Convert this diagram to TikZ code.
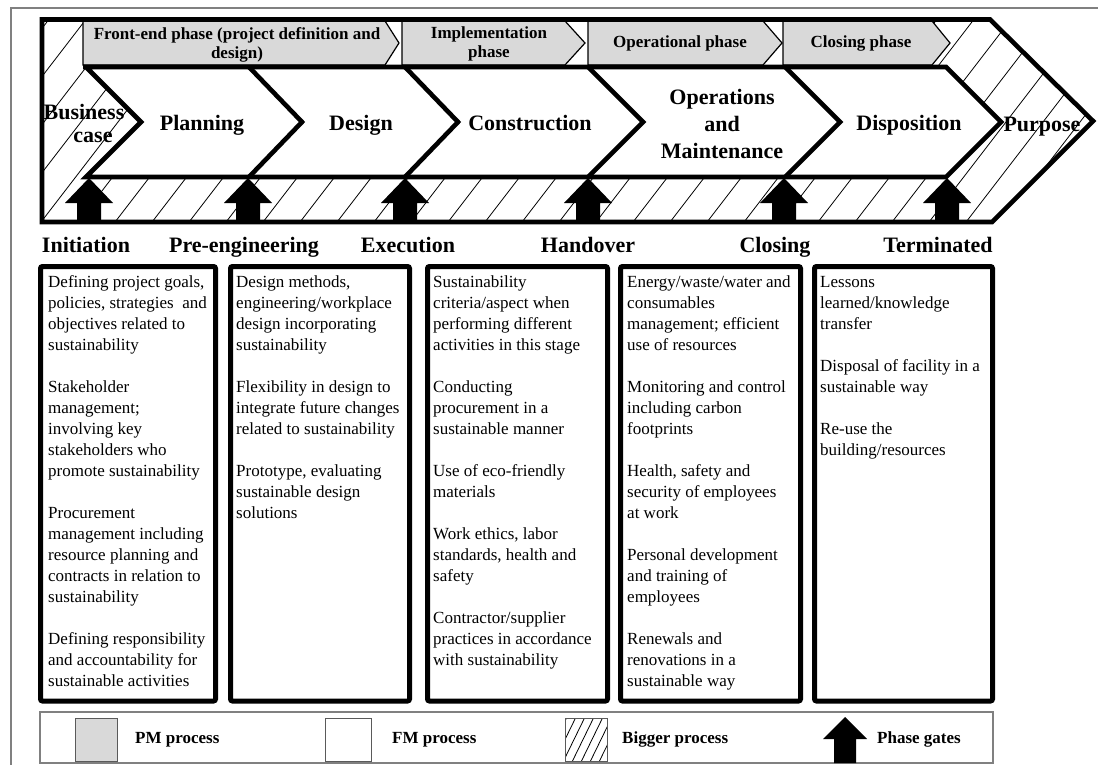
\documentclass[tikz,border=0pt]{standalone}
\usepackage{fontspec}
\setmainfont{Liberation Serif}
\definecolor{pmgray}{RGB}{217,217,217}
\definecolor{framegray}{RGB}{128,128,128}
\begin{document}
\begin{tikzpicture}[x=1pt,y=-1pt,
  thickln/.style={line width=4.6pt, line join=miter},
  pmshape/.style={fill=pmgray, draw=black, line width=1.2pt},
  hatchln/.style={line width=0.8pt},
  phaselbl/.style={font=\fontsize{17}{19.5}\selectfont\bfseries, align=center, inner sep=0, anchor=north},
  phaseone/.style={font=\fontsize{17}{19.5}\selectfont\bfseries, inner sep=0, anchor=base},
  stagelbl/.style={font=\fontsize{22}{27}\selectfont\bfseries, inner sep=0, anchor=base},
  stagemulti/.style={font=\fontsize{22}{27}\selectfont\bfseries, align=center, inner sep=0, anchor=north},
  gatelbl/.style={font=\fontsize{22}{26}\selectfont\bfseries, inner sep=0, anchor=base},
  bodytxt/.style={font=\fontsize{17}{21}\selectfont, align=left, inner sep=0, anchor=north west},
  colbox/.style={draw=black, line width=5pt, rounded corners=2pt},
  legtxt/.style={font=\fontsize{17}{20}\selectfont\bfseries, inner sep=0, anchor=base west},
  framestyle/.style={draw=framegray, line width=1.2pt}
]
\useasboundingbox (0,0) rectangle (1098,765);

% page frame
\coordinate (f0) at (11,765);
\coordinate (f1) at (11,8);
\coordinate (f2) at (1098,8);
\draw[framestyle] (f0) -- (f1) -- (f2);

% outer shape
\coordinate (o1) at (42,19.5);
\coordinate (o2) at (990,19.5);
\coordinate (o3) at (1093,121);
\coordinate (o4) at (992,222);
\coordinate (o5) at (42,222);
\fill[white] (o1) -- (o2) -- (o3) -- (o4) -- (o5) -- cycle;

% texts lying on hatched area (hatch drawn over them)
\node[stagelbl] (biz1) at (84,120) {Business};
\node[stagelbl] (biz2) at (93,143) {case};
\node[stagelbl] (purp) at (1042,132) {Purpose};

% hatch
\begin{scope}
\clip (o1) -- (o2) -- (o3) -- (o4) -- (o5) -- cycle;
\foreach \c in {-147,-110,...,1110} \draw[hatchln] (\c,226) -- (\c+160,18);
\end{scope}

% top row (PM process)
\fill[white] (83,21) rectangle (783,65);
\draw[pmshape] (83,21) -- (385,21) -- (399,43) -- (385,65) -- (83,65) -- cycle;
\draw[pmshape] (402,21) -- (565,21) -- (585,43) -- (565,65) -- (402,65) -- cycle;
\draw[pmshape] (588,21) -- (763,21) -- (782,43) -- (763,65) -- (588,65) -- cycle;
\draw[pmshape] (783,21) -- (932,21) -- (950,43) -- (932,65) -- (783,65) -- cycle;

% middle row (FM process)
\fill[white] (86,67) -- (946,67) -- (1001,122) -- (946,177) -- (86,177) -- (141,122) -- cycle;
\draw[thickln] (83,67) -- (946,67) -- (1001,122) -- (946,177) -- (86,177) -- (141,122) -- (86,67);
\draw[thickln] (249,67) -- (302,122) -- (249,177);
\draw[thickln] (405,67) -- (458,122) -- (405,177);
\draw[thickln] (588,67) -- (643,122) -- (588,177);
\draw[thickln] (785,67) -- (840,122) -- (785,177);

% phase gates
\foreach \x in {89,248,405,588,784,947}
  \fill (\x,178) -- (\x+24,203) -- (\x+12,203) -- (\x+12,222) -- (\x-12,222) -- (\x-12,203) -- (\x-24,203) -- cycle;

% outer border
\draw[thickln] (o1) -- (o2) -- (o3) -- (o4) -- (o5) -- cycle;

% phase labels
\node[phaselbl] (ph1) at (237,25.4) {\strut Front-end phase (project definition and\\design)};
\node[phaselbl] (ph2) at (489,24.4) {\strut Implementation\\phase};
\node[phaseone] (ph3) at (680,48) {Operational phase};
\node[phaseone] (ph4) at (861,48) {Closing phase};

% stage labels
\node[stagelbl] (st1) at (202,131) {Planning};
\node[stagelbl] (st2) at (361,131) {Design};
\node[stagelbl] (st3) at (530,131) {Construction};
\node[stagemulti] (st4) at (722,85.1) {\strut Operations\\and\\Maintenance};
\node[stagelbl] (st5) at (909,131) {Disposition};

% gate labels
\node[gatelbl] (g1) at (86,252) {Initiation};
\node[gatelbl] (g2) at (244,252) {Pre-engineering};
\node[gatelbl] (g3) at (408,252) {Execution};
\node[gatelbl] (g4) at (588,252) {Handover};
\node[gatelbl] (g5) at (775,252) {Closing};
\node[gatelbl] (g6) at (938,252) {Terminated};

% column boxes
\draw[colbox] (40.5,266.5) rectangle (215.5,701);
\draw[colbox] (230.5,266.5) rectangle (409.5,701);
\draw[colbox] (427.5,266.5) rectangle (607.5,701);
\draw[colbox] (620.5,266.5) rectangle (800.5,701);
\draw[colbox] (814.5,266.5) rectangle (992.5,701);

\node[bodytxt] (t1) at (48,272.3) {\strut Defining project goals,\\policies, strategies\ \ and\\objectives related to\\sustainability\\[21pt]Stakeholder\\management;\\involving key\\stakeholders who\\promote sustainability\\[21pt]Procurement\\management including\\resource planning and\\contracts in relation to\\sustainability\\[21pt]Defining responsibility\\and accountability for\\sustainable activities};
\node[bodytxt] (t2) at (236,272.3) {\strut Design methods,\\engineering/workplace\\design incorporating\\sustainability\\[21pt]Flexibility in design to\\integrate future changes\\related to sustainability\\[21pt]Prototype, evaluating\\sustainable design\\solutions};
\node[bodytxt] (t3) at (433,272.3) {\strut Sustainability\\criteria/aspect when\\performing different\\activities in this stage\\[21pt]Conducting\\procurement in a\\sustainable manner\\[21pt]Use of eco-friendly\\materials\\[21pt]Work ethics, labor\\standards, health and\\safety\\[21pt]Contractor/supplier\\practices in accordance\\with sustainability};
\node[bodytxt] (t4) at (627,272.3) {\strut Energy/waste/water and\\consumables\\management; efficient\\use of resources\\[21pt]Monitoring and control\\including carbon\\footprints\\[21pt]Health, safety and\\security of employees\\at work\\[21pt]Personal development\\and training of\\employees\\[21pt]Renewals and\\renovations in a\\sustainable way};
\node[bodytxt] (t5) at (820,272.3) {\strut Lessons\\learned/knowledge\\transfer\\[21pt]Disposal of facility in a\\sustainable way\\[21pt]Re-use the\\building/resources};

% legend
\draw[framestyle] (40,712) rectangle (993,763);
\draw[fill=pmgray, draw=framegray!70!black, line width=1pt] (75,718) rectangle (117,761);
\node[legtxt] (lg1) at (135,743) {PM process};
\draw[fill=white, draw=framegray!70!black, line width=1pt] (325,718) rectangle (371,761);
\node[legtxt] (lg2) at (392,743) {FM process};
\begin{scope}
\clip (565,718) rectangle (607,761);
\foreach \c in {545,554,...,615} \draw[line width=0.8pt] (\c,762) -- (\c+22,717);
\end{scope}
\draw[draw=framegray!70!black, line width=1pt] (565,718) rectangle (607,761);
\node[legtxt] (lg3) at (622,743) {Bigger process};
\fill (845,717) -- (867,739) -- (856,739) -- (856,763) -- (834,763) -- (834,739) -- (823,739) -- cycle;
\node[legtxt] (lg4) at (877,743) {Phase gates};
\end{tikzpicture}
\end{document}
